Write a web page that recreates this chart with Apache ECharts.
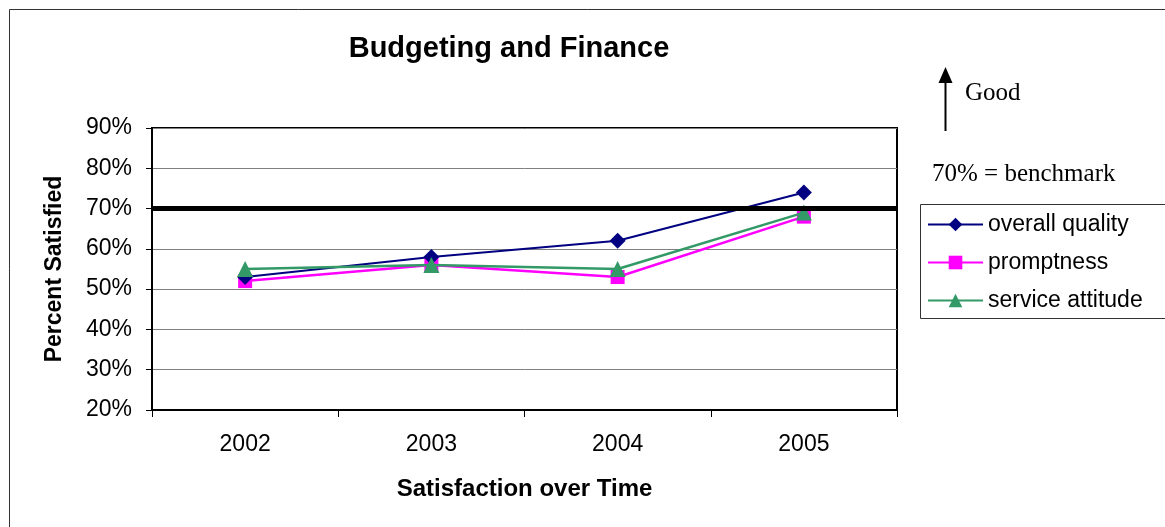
<!DOCTYPE html>
<html>
<head>
<meta charset="utf-8">
<script src="https://cdn.jsdelivr.net/npm/echarts@6/dist/echarts.min.js"></script>
<style>
  html, body { margin: 0; padding: 0; background: #fff; }
  #chart { width: 1165px; height: 527px; }
</style>
</head>
<body>
<div id="chart"></div>
<script>
// Survey years and percent satisfied per measure
const years = ['2002', '2003', '2004', '2005'];
const overallQuality = [53, 58, 62, 74];
const promptness = [52, 56, 53, 68];
const serviceAttitude = [55, 56, 55, 69];
const benchmark = 70;
const yTicks = [20, 30, 40, 50, 60, 70, 80, 90];

const sans = '"Liberation Sans", Arial, sans-serif';
const serif = '"Liberation Serif", "Times New Roman", serif';

const chart = echarts.init(document.getElementById('chart'), null, { renderer: 'canvas' });

chart.setOption({
  animation: false,
  backgroundColor: '#fff',
  title: {
    text: 'Budgeting and Finance',
    left: 504, top: 29, textAlign: 'center',
    textStyle: { fontFamily: sans, fontSize: 29, fontWeight: 'bold', color: '#000' }
  },
  grid: {
    left: 152, top: 128, right: 268, bottom: 117,
    show: true, borderColor: '#000', borderWidth: 2, backgroundColor: 'transparent'
  },
  legend: {
    orient: 'vertical',
    left: 927, top: 213, padding: 0,
    itemWidth: 55, itemHeight: 17, itemGap: 15,
    textStyle: { fontFamily: sans, fontSize: 23, color: '#000' },
    data: ['overall quality', 'promptness', 'service attitude']
  },
  xAxis: {
    type: 'category',
    data: years,
    boundaryGap: true,
    axisLine: { lineStyle: { color: '#000', width: 2 } },
    axisTick: { show: true, length: 7, lineStyle: { color: '#000', width: 1 } },
    axisLabel: { fontFamily: sans, fontSize: 23, color: '#000', margin: 23 },
    name: 'Satisfaction over Time',
    nameLocation: 'middle', nameGap: 67,
    nameTextStyle: { fontFamily: sans, fontSize: 24, fontWeight: 'bold', color: '#000' }
  },
  yAxis: {
    type: 'value',
    min: yTicks[0], max: yTicks[yTicks.length - 1], interval: 10,
    axisLine: { show: true, lineStyle: { color: '#000', width: 2 } },
    axisTick: { show: true, length: 6, lineStyle: { color: '#000', width: 1 } },
    axisLabel: { fontFamily: sans, fontSize: 23, color: '#000', margin: 20, formatter: '{value}%' },
    splitLine: { show: true, lineStyle: { color: '#808080', width: 1 } },
    name: 'Percent Satisfied',
    nameLocation: 'middle', nameGap: 86, nameRotate: 90,
    nameTextStyle: { fontFamily: sans, fontSize: 23, fontWeight: 'bold', color: '#000' }
  },
  series: [
    {
      name: 'overall quality', type: 'line', data: overallQuality,
      symbol: 'diamond', symbolSize: 16,
      lineStyle: { color: '#000080', width: 2 },
      itemStyle: { color: '#000080' },
      markLine: {
        silent: true, symbol: 'none', label: { show: false },
        lineStyle: { color: '#000', width: 5, type: 'solid' },
        data: [{ yAxis: benchmark }]
      },
      z: 3
    },
    {
      name: 'promptness', type: 'line', data: promptness,
      symbol: 'rect', symbolSize: 14,
      lineStyle: { color: '#FF00FF', width: 2.5 },
      itemStyle: { color: '#FF00FF' },
      z: 2
    },
    {
      name: 'service attitude', type: 'line', data: serviceAttitude,
      symbol: 'triangle', symbolSize: 16,
      lineStyle: { color: '#339966', width: 2.5 },
      itemStyle: { color: '#339966' },
      z: 4
    }
  ],
  graphic: [
    // outer chart frame
    { type: 'rect', shape: { x: 9.5, y: 9.5, width: 1170, height: 530 },
      style: { fill: 'none', stroke: '#333', lineWidth: 1 }, z: -1 },
    // legend frame
    { type: 'rect', shape: { x: 920.5, y: 204.5, width: 260, height: 114 },
      style: { fill: 'none', stroke: '#333', lineWidth: 1 } },
    // "Good" arrow
    { type: 'line', shape: { x1: 945.5, y1: 131, x2: 945.5, y2: 78 },
      style: { stroke: '#000', lineWidth: 2 } },
    { type: 'polygon', shape: { points: [[938.5, 83], [952.5, 83], [945.5, 67]] },
      style: { fill: '#000' } },
    { type: 'text', x: 965, y: 93,
      style: { text: 'Good', font: '25px ' + serif, fill: '#000', verticalAlign: 'middle' } },
    { type: 'text', x: 932, y: 174,
      style: { text: '70% = benchmark', font: '25px ' + serif, fill: '#000', verticalAlign: 'middle' } }
  ]
});
</script>
</body>
</html>
